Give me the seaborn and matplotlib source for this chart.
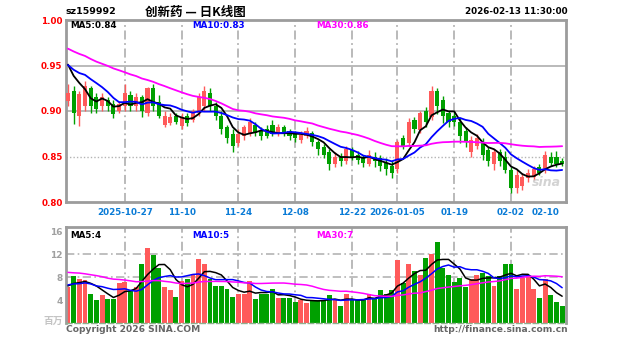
import numpy as np
import pandas as pd
import matplotlib
matplotlib.use("Agg")
import matplotlib.pyplot as plt
import seaborn as sns

# ---------------- data ----------------
code = "sz159992"
title = "创新药 — 日K线图"
timestamp = "2026-02-13 11:30:00"

date_labels = ["2025-10-27", "11-10", "11-24", "12-08", "12-22", "2026-01-05", "01-19", "02-02", "02-10"]
date_idx = [10, 20, 30, 40, 50, 58, 68, 78, 84]
grid_idx = [10, 20, 30, 40, 50, 58, 68, 78]

open_ = [0.911, 0.922, 0.895, 0.905, 0.925, 0.915, 0.905, 0.912, 0.908, 0.900,
         0.905, 0.918, 0.905, 0.915, 0.898, 0.925, 0.910, 0.885, 0.887, 0.895,
         0.884, 0.895, 0.890, 0.898, 0.905, 0.920, 0.905, 0.895, 0.882, 0.875,
         0.865, 0.872, 0.875, 0.885, 0.878, 0.880, 0.885, 0.875, 0.882, 0.878,
         0.875, 0.868, 0.872, 0.876, 0.866, 0.860, 0.855, 0.842, 0.850, 0.845,
         0.857, 0.852, 0.848, 0.842, 0.850, 0.848, 0.843, 0.840, 0.836, 0.870,
         0.865, 0.890, 0.879, 0.900, 0.893, 0.922, 0.912, 0.898, 0.895, 0.888,
         0.878, 0.855, 0.862, 0.866, 0.857, 0.842, 0.855, 0.850, 0.835, 0.815,
         0.818, 0.826, 0.828, 0.838, 0.836, 0.850, 0.850, 0.845]
high = [0.930, 0.928, 0.922, 0.933, 0.928, 0.920, 0.920, 0.915, 0.912, 0.911,
        0.930, 0.922, 0.920, 0.918, 0.926, 0.930, 0.918, 0.900, 0.898, 0.898,
        0.898, 0.898, 0.902, 0.920, 0.928, 0.925, 0.910, 0.900, 0.885, 0.880,
        0.880, 0.885, 0.892, 0.888, 0.882, 0.885, 0.890, 0.886, 0.885, 0.880,
        0.878, 0.878, 0.882, 0.878, 0.868, 0.864, 0.858, 0.855, 0.854, 0.862,
        0.860, 0.856, 0.852, 0.857, 0.855, 0.852, 0.848, 0.845, 0.868, 0.874,
        0.892, 0.893, 0.900, 0.904, 0.928, 0.925, 0.916, 0.900, 0.900, 0.892,
        0.882, 0.872, 0.875, 0.870, 0.860, 0.858, 0.858, 0.856, 0.838, 0.835,
        0.832, 0.836, 0.840, 0.842, 0.856, 0.855, 0.856, 0.848]
low = [0.905, 0.886, 0.884, 0.900, 0.898, 0.898, 0.900, 0.900, 0.892, 0.898,
       0.900, 0.900, 0.900, 0.893, 0.895, 0.900, 0.892, 0.882, 0.885, 0.886,
       0.880, 0.884, 0.888, 0.895, 0.900, 0.900, 0.890, 0.875, 0.865, 0.855,
       0.862, 0.868, 0.872, 0.872, 0.868, 0.870, 0.872, 0.872, 0.873, 0.868,
       0.866, 0.865, 0.870, 0.862, 0.852, 0.848, 0.835, 0.838, 0.840, 0.842,
       0.846, 0.842, 0.838, 0.840, 0.838, 0.834, 0.830, 0.826, 0.832, 0.858,
       0.862, 0.876, 0.876, 0.882, 0.890, 0.897, 0.887, 0.882, 0.884, 0.865,
       0.860, 0.850, 0.858, 0.846, 0.840, 0.835, 0.840, 0.832, 0.810, 0.810,
       0.813, 0.822, 0.824, 0.830, 0.832, 0.840, 0.838, 0.840]
close = [0.920, 0.898, 0.919, 0.928, 0.905, 0.902, 0.915, 0.905, 0.897, 0.908,
         0.920, 0.905, 0.915, 0.900, 0.925, 0.905, 0.895, 0.895, 0.893, 0.888,
         0.893, 0.887, 0.900, 0.915, 0.922, 0.905, 0.895, 0.880, 0.870, 0.862,
         0.875, 0.882, 0.888, 0.876, 0.872, 0.873, 0.875, 0.882, 0.876, 0.872,
         0.870, 0.874, 0.878, 0.866, 0.858, 0.852, 0.842, 0.850, 0.845, 0.858,
         0.850, 0.846, 0.843, 0.852, 0.845, 0.840, 0.836, 0.832, 0.866, 0.862,
         0.888, 0.880, 0.898, 0.888, 0.922, 0.905, 0.895, 0.888, 0.888, 0.872,
         0.866, 0.868, 0.870, 0.852, 0.845, 0.855, 0.845, 0.835, 0.815, 0.830,
         0.828, 0.832, 0.836, 0.832, 0.852, 0.843, 0.842, 0.842]
volume = [6.3, 8.2, 7.6, 7.4, 5.0, 4.0, 4.8, 4.2, 4.2, 7.0,
          7.1, 5.5, 6.2, 10.3, 13.0, 11.8, 9.5, 6.3, 5.8, 4.5,
          7.3, 7.6, 8.4, 11.1, 10.2, 7.6, 6.5, 6.4, 5.9, 4.5,
          5.0, 5.0, 7.3, 4.2, 5.0, 5.0, 5.9, 4.4, 4.3, 4.3,
          3.7, 4.0, 3.5, 4.0, 4.0, 4.0, 4.8, 4.0, 3.0, 5.0,
          4.0, 4.0, 4.0, 5.0, 4.4, 5.8, 5.1, 5.8, 11.0, 7.0,
          10.2, 9.0, 8.4, 11.3, 12.0, 14.1, 9.5, 8.4, 7.2, 7.8,
          6.3, 7.6, 8.4, 8.7, 8.2, 6.4, 8.2, 10.2, 10.2, 6.0,
          7.8, 8.1, 6.0, 4.4, 7.6, 4.8, 3.6, 2.9]
# sessions before the visible window (only feed the moving averages)
pre_close = [0.990, 1.000, 0.995, 1.005, 0.990, 0.985, 0.975, 0.980, 0.970, 0.985,
             0.975, 0.970, 0.980, 0.975, 0.965, 0.970, 0.960, 0.965, 0.955, 0.960,
             0.950, 0.955, 0.948, 0.952, 0.945, 0.960, 0.958, 0.962, 0.955]
pre_volume = [10.5, 9.0, 11.2, 9.8, 8.6, 10.4, 12.0, 9.2, 8.8, 10.1,
              9.5, 11.0, 9.3, 10.8, 8.9, 9.6, 10.2, 9.1, 10.0, 9.9,
              6.5, 7.2, 6.0, 6.8, 7.5, 6.1, 6.9, 6.4, 6.6]

price_ticks = [0.80, 0.85, 0.90, 0.95, 1.00]
vol_ticks = [4, 8, 12, 16]
price_ma_labels = ["MA5:0.84", "MA10:0.83", "MA30:0.86"]
vol_ma_labels = ["MA5:4", "MA10:5", "MA30:7"]
vol_unit = "百万"

# ---------------- styling ----------------
sns.set_style("white")
plt.rcParams['font.family'] = ['DejaVu Sans', 'Noto Sans CJK SC']
CJK = ['Noto Sans CJK SC', 'DejaVu Sans']

UP, DOWN = "#FF5A5A", "#00A000"
MA_COLORS = ["#000000", "#0000FF", "#FF00FF"]
GRID = "#B4B4B4"
FRAME = "#9C9C9C"

W, H = 627, 342
fig = plt.figure(figsize=(W / 100, H / 100), dpi=100)
fig.patch.set_facecolor("white")

def fx(px):
    return px / W

def fy(py):
    return 1 - py / H

n = len(close)
idx = np.arange(n)
o = np.array(open_); c = np.array(close); h = np.array(high); l = np.array(low)
up = c >= o
direction = np.where(up, "up", "down")

full_close = pd.Series(pre_close + close)
full_vol = pd.Series(pre_volume + volume)
npre = len(pre_close)
ma_p = [full_close.rolling(k).mean().iloc[npre:].to_numpy() for k in (5, 10, 30)]
ma_v = [full_vol.rolling(k).mean().iloc[npre:].to_numpy() for k in (5, 10, 30)]

x_left, x_right = -0.35, 87.68

# ---------------- price panel ----------------
ax = fig.add_axes([fx(66), fy(202), fx(500), 182 / H])
ax.set_xlim(x_left, x_right)
ax.set_ylim(0.80, 1.00)
for yv in (0.95, 0.90):
    ax.axhline(yv, color=GRID, lw=1.3, zorder=0)
ax.axhline(0.85, color=GRID, lw=1.0, ls=(0, (1, 1.5)), zorder=0)
for gi in grid_idx:
    ax.axvline(gi, color=GRID, lw=1.3, ls=(0, (5, 2, 1, 2)), zorder=0)

cols = np.where(up, UP, DOWN)
ax.vlines(idx, l, h, colors=cols, lw=1.0, zorder=2)
body_h = np.maximum(np.abs(c - o), 0.0012)
ax.bar(idx, body_h, bottom=np.minimum(o, c), width=0.72, color=cols, linewidth=0, zorder=3)

for m, col in zip(ma_p, MA_COLORS):
    sns.lineplot(x=idx, y=m, ax=ax, color=col, lw=1.3, zorder=4)

ax.set_yticks(price_ticks)
ax.set_yticklabels([f"{v:.2f}" for v in price_ticks])
ax.set_xticks(date_idx)
ax.set_xticklabels(date_labels)
ax.tick_params(axis="y", length=0, pad=2.5, colors="#FF0000", labelsize=6.3)
ax.tick_params(axis="x", length=0, pad=4.5, colors="#0A7BD6", labelsize=6.3)
for t in ax.get_yticklabels() + ax.get_xticklabels():
    t.set_fontweight("bold")
ax.set_xlabel(""); ax.set_ylabel("")
for s in ax.spines.values():
    s.set_color(FRAME); s.set_linewidth(2.0)

# MA legends inside price panel
for lab, col, px in zip(price_ma_labels, MA_COLORS, (70, 192, 316)):
    fig.text(fx(px), fy(26), lab, color=col, fontsize=6.3, fontweight="bold", ha="left", va="center")

# sina watermark
fig.text(fx(546), fy(182), "sina", color="#C8C8C8", fontsize=9, fontweight="bold",
         style="italic", ha="center", va="center", alpha=0.8)

# ---------------- volume panel ----------------
axv = fig.add_axes([fx(66), fy(323), fx(500), 96 / H])
vdf = pd.DataFrame({"idx": idx, "vol": volume, "dir": direction})
for gv in (8, 12):
    axv.axhline(gv, color=GRID, lw=1.2, ls=(0, (5, 2, 1, 2)), zorder=0)
for gi in grid_idx:
    axv.axvline(gi, color=GRID, lw=1.3, ls=(0, (5, 2, 1, 2)), zorder=0)
sns.barplot(data=vdf, x="idx", y="vol", hue="dir", palette={"up": UP, "down": DOWN},
            dodge=False, native_scale=True, width=0.86, saturation=1, legend=False,
            errorbar=None, linewidth=0, ax=axv, zorder=2)
for m, col in zip(ma_v, MA_COLORS):
    sns.lineplot(x=idx, y=m, ax=axv, color=col, lw=1.1, zorder=4)
axv.set_xlim(x_left, x_right)
axv.set_ylim(0, 16.7)
axv.set_yticks(vol_ticks)
axv.set_yticklabels([str(v) for v in vol_ticks])
axv.set_xticks([])
axv.tick_params(axis="y", length=0, pad=2.5, colors="#A0A0A0", labelsize=6.5)
for t in axv.get_yticklabels():
    t.set_fontweight("bold")
axv.set_xlabel(""); axv.set_ylabel("")
for name, s in axv.spines.items():
    s.set_color(FRAME); s.set_linewidth(2.0)
axv.spines["bottom"].set_linewidth(1.0)
axv.spines["bottom"].set_linestyle((0, (4, 2)))
axv.spines["bottom"].set_color("#8FB08F")

for lab, col, px in zip(vol_ma_labels, MA_COLORS, (70, 192, 316)):
    fig.text(fx(px), fy(235), lab, color=col, fontsize=6.3, fontweight="bold", ha="left", va="center")
fig.text(fx(63), fy(321), vol_unit, color="#C4C4C4", fontsize=7, fontweight="bold",
         ha="right", va="center", family=CJK)

# ---------------- header & footer ----------------
fig.text(fx(66), fy(12), code, color="#000000", fontsize=6.8, fontweight="bold", ha="left", va="center")
fig.text(fx(195), fy(12), title, color="#000000", fontsize=9, fontweight="bold",
         ha="center", va="center", family=CJK)
fig.text(fx(568), fy(12), timestamp, color="#000000", fontsize=6.3, fontweight="bold", ha="right", va="center")
fig.text(fx(66), fy(329), "Copyright 2026 SINA.COM", color="#666666", fontsize=6.6,
         fontweight="bold", ha="left", va="center")
fig.text(fx(568), fy(329), "http://finance.sina.com.cn", color="#666666", fontsize=6.6,
         fontweight="bold", ha="right", va="center")

fig.savefig("out.png", dpi=100, facecolor="white")
